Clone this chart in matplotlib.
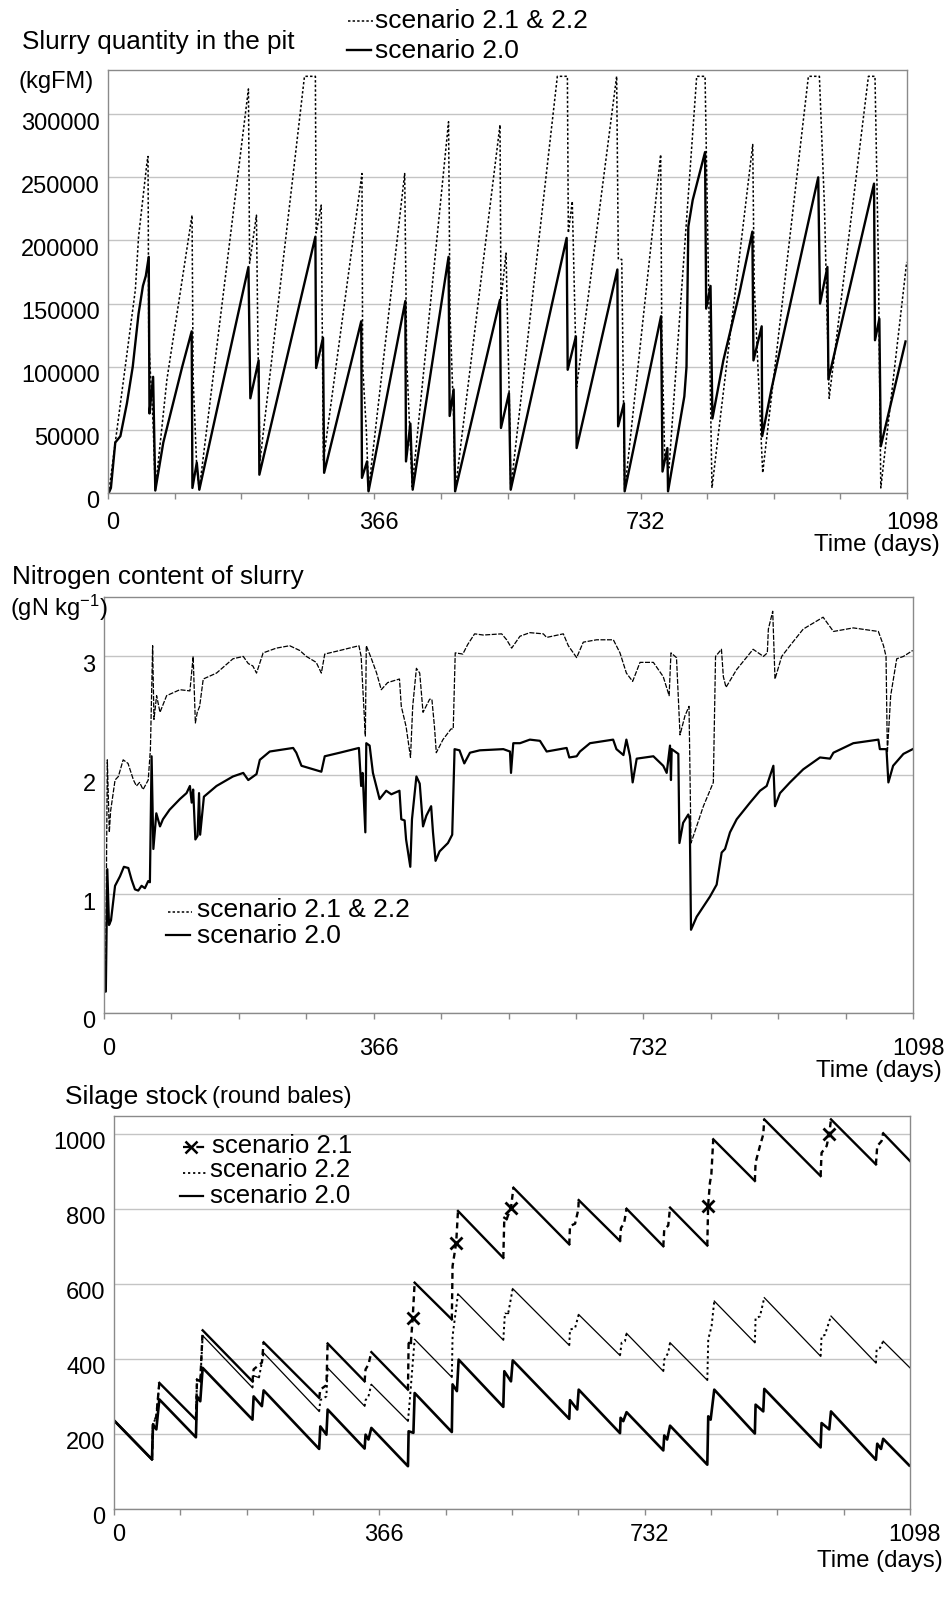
import numpy as np
import matplotlib
matplotlib.use("Agg")
import matplotlib.pyplot as plt
import matplotlib.transforms as mtransforms
from matplotlib.lines import Line2D

plt.rcParams['font.family'] = ['Liberation Sans', 'DejaVu Sans']
plt.rcParams['mathtext.fontset'] = 'custom'
plt.rcParams['mathtext.rm'] = 'Liberation Sans'
plt.rcParams['mathtext.default'] = 'regular'

# ---- data: (day, value) breakpoints ----
slurry_20 = [(0,0),(1,0),(4,4000),(10,40000),(17,45000),(26,71000),(34,100000),(42,142000),
             (48,164000),(52,172000),(56,187000),(57,63000),(59,75000),(62,92000),(65,2000),
             (76,40000),(102,100000),(115,128000),(116,4000),(122,24000),(125.5,2600),
             (193,179000),(195.6,75000),(207,105000),(208,14500),(285,203000),(286,99000),
             (295.5,123000),(297,16000),(348,136000),(349,12000),(356,25000),(358,1300),
             (408.6,152000),(409.5,25000),(415.5,55000),(418.7,2600),(468,187000),(469.5,61000),
             (475,82000),(477,1300),(538.7,153000),(540,51500),(551,79000),(553.4,2600),
             (630.3,202000),(631.7,97600),(643,124000),(644,35600),(700,177000),(701,52800),
             (709,71000),(710,1300),(760,140000),(762,17000),(768.7,35600),(769.6,1300),
             (792,76500),(795,100000),(797.5,211000),(803.5,232000),(820.5,270000),(822,146000),
             (828,164000),(830.6,59000),(845.6,105000),(867.6,158000),(885.5,207000),(887,105000),
             (898.3,132000),(899,45000),(912,83000),(976,250000),(978.5,150000),(988.6,179000),
             (990,90000),(1052.7,245000),(1054,121000),(1060,138000),(1062,37000),(1096,120000)]

slurry_21_22 = [(0,0),(1,0),(10,40000),(37.6,161000),(42,203000),(53.6,262000),(55,266500),
                (56,120000),(62,55000),(65,2000),(66,8000),(81,90000),(115.5,220000),(117,90000),
                (122,20000),(125.5,3000),(193,320000),(194.6,182000),(204,220000),(206,120000),
                (209,26000),(270,330000),(285,330000),(286,206000),(293,228000),(296,26000),
                (349,253000),(350,100000),(355,50000),(358,2000),(407.7,253000),(410.5,105000),
                (418,5000),(468,294000),(470,142000),(475,60000),(477,1300),(538.7,291600),
                (540,153000),(547,190000),(552.5,47500),(553.4,2600),(617.5,330000),(631.3,330000),
                (632.6,206000),(638,231000),(644,84000),(699,330000),(701.3,185000),(706,185000),
                (709,47500),(710,1300),(759.5,268000),(761,127000),(765,30000),(771,20000),
                (809,330000),(820.5,330000),(830,4000),(886,276000),(888,166000),(899.7,16000),
                (962.5,330000),(977.6,330000),(984.5,228000),(991,75000),(1045,330000),
                (1054,330000),(1058.6,186000),(1062,4000),(1097.6,183000)]

nitrogen_20 = [(0.5,0.18),(2.5,0.18),(4.5,1.21),(6.8,0.74),(9.5,0.78),(15,1.07),(21.7,1.15),
               (27,1.23),(33,1.22),(37.5,1.12),(42,1.04),(46.5,1.03),(51,1.07),(55.5,1.05),
               (60,1.11),(62.3,1.10),(64.6,2.16),(67,1.38),(71,1.68),(76,1.57),(80,1.63),
               (89,1.71),(103,1.80),(112,1.85),(116.6,1.91),(119,1.77),(121,1.88),(124,1.46),
               (127,1.49),(129,1.85),(130.5,1.50),(135.6,1.82),(152.7,1.91),(175,1.99),
               (189,2.02),(195.8,1.96),(207,2.01),(211.5,2.13),(225,2.20),(256.7,2.23),
               (261,2.19),(268,2.08),(284,2.05),(295,2.03),(299.6,2.16),(320,2.19),(346,2.23),
               (349,1.91),(351,2.02),(354.7,1.52),(356,2.27),(360.5,2.25),(365,2.02),(374,1.80),
               (383,1.87),(390,1.84),(401,1.87),(403.5,1.63),(408,1.62),(410,1.46),(415.7,1.23),
               (418,1.63),(424,1.99),(428.5,1.93),(433,1.57),(437.5,1.66),(444,1.74),
               (446.5,1.52),(450,1.28),(455.5,1.36),(466.8,1.43),(472.6,1.50),(475.8,2.22),
               (482.5,2.21),(489,2.10),(496.7,2.19),(510,2.21),(542,2.22),(551,2.20),
               (552.4,2.02),(555.5,2.27),(564.6,2.27),(578,2.30),(591.7,2.29),(600.8,2.20),
               (627.9,2.23),(631.5,2.15),(641.5,2.16),(646,2.20),(659.6,2.27),(691,2.30),
               (695.5,2.22),(705,2.17),(709,2.30),(713.9,2.16),(717.5,1.94),(723,2.14),
               (745.6,2.16),(759,2.08),(763.7,2.02),(768.2,2.25),(769.5,1.96),(770.5,2.22),
               (779.5,2.18),(781,1.43),(786,1.60),(793,1.67),(795,1.63),(796.7,0.70),
               (804.4,0.81),(822.5,0.98),(831.5,1.08),(838.3,1.35),(842.9,1.38),(849.6,1.52),
               (858.7,1.63),(876.8,1.77),(890.4,1.87),(899.4,1.91),(908.5,2.08),(910.7,1.74),
               (917.5,1.85),(931,1.94),(949,2.05),(971.8,2.15),(985.4,2.14),(990,2.19),
               (1017,2.27),(1051,2.30),(1053,2.22),(1062,2.22),(1064.6,1.94),(1071,2.08),
               (1085,2.18),(1097.6,2.22)]

nitrogen_21_22 = [(0.5,0.18),(2.5,0.5),(4.5,2.13),(7.2,1.52),(9,1.7),(15,1.96),(19.5,1.99),
                  (26,2.13),(32.6,2.10),(40,1.96),(44,1.91),(48.3,1.94),(53,1.88),(60,1.96),
                  (63,2.22),(66,3.09),(67.8,2.47),(71.4,2.67),(76,2.53),(85,2.67),(103,2.72),
                  (116.6,2.71),(121,3.0),(124,2.44),(126.6,2.53),(129.8,2.58),(134.7,2.81),
                  (152.7,2.86),(175,2.98),(189,3.0),(195.8,2.94),(202,2.92),(207,2.86),
                  (216,3.03),(234,3.07),(252,3.09),(265.7,3.05),(274.7,3.0),(288,2.95),
                  (295,2.86),(299.6,3.02),(320,3.05),(346,3.09),(349,3.0),(354.7,2.33),
                  (356,3.09),(363,2.98),(370,2.86),(376.3,2.72),(385,2.78),(401,2.81),
                  (403.5,2.58),(410,2.41),(416,2.15),(419,2.58),(424,2.90),(428.5,2.86),
                  (433,2.53),(442,2.64),(445,2.64),(448.5,2.41),(451,2.19),(460,2.30),
                  (471,2.39),(474,2.39),(476.7,3.03),(487,3.02),(493.6,3.10),(503,3.19),
                  (514.8,3.18),(539.7,3.19),(546.5,3.14),(553.3,3.07),(564.6,3.17),(578,3.20),
                  (596.2,3.19),(600.8,3.16),(623.4,3.19),(630.2,3.09),(641.5,2.99),(650.5,3.12),
                  (668.6,3.14),(691.3,3.14),(700.3,3.03),(709,2.86),(717.5,2.79),(727.5,2.95),
                  (745.6,2.95),(759,2.83),(767,2.67),(769.5,3.03),(777,2.99),(781.8,2.34),
                  (788.5,2.50),(794,2.58),(796.7,1.43),(813.5,1.74),(827,1.94),(830,3.00),
                  (838,3.06),(840.6,2.83),(844.2,2.74),(858.7,2.89),(881,3.06),(895,3.0),
                  (900.3,3.03),(901.7,3.23),(907.6,3.38),(910.7,2.81),(919.8,3.0),(931,3.09),
                  (949,3.23),(976,3.33),(990,3.21),(1017,3.24),(1051,3.21),(1058,3.09),
                  (1061.4,3.0),(1063.2,2.19),(1067.7,2.67),(1075.9,2.98),(1085,3.0),
                  (1097.6,3.05)]

silage_20 = [(0,236),(52.4,132),(53.8,225),(58.4,212),(62.5,292),(113,191),(114.5,300),
             (119,287),(122.3,376),(191,238),(192.6,300),(204,274),(206.4,316),(283,160),
             (284.6,220),(293,198),(294.7,265),(345.7,161),(347,198),(351,185),(355,216),
             (405.5,114),(406.4,207),(413,203),(414.7,309),(466,205),(467,332),(473,314),
             (475.4,398),(537,272),(538.4,367),(547.6,340),(550,396),(628,240),(629,290),
             (639,265),(641,318),(698,202),(698.8,243),(702.5,234),(707,258),(757.7,156),
             (759,196),(763,185),(767,222),(818.4,118),(819.7,247),(823,238),(828,318),
             (884,201),(885,278),(895.6,260),(897,320),(974.7,164),(976,229),(986.6,212),
             (989,260),(1051,131),(1052.8,174),(1058,160),(1061,187),(1097,116)]

silage_21 = [(0,236),(52.4,132),(53.8,225),(58.4,247),(62.5,336),(113,238),(114.5,345),
             (119,340),(122.3,476),(191,340),(192.6,372),(204,390),(206.4,444),(283,296),
             (284.6,318),(293,330),(294.7,441),(345.7,340),(347,372),(351,385),(355,418),
             (405.5,318),(406.4,443),(409.5,443),(412,509),(414.7,603),(466,505),(467,647),
             (472,709),(474.5,794),(537,669),(538.4,776),(541.6,772),(547.6,803),(551,856),
             (628,705),(629,754),(636,760),(640.5,798),(641,823),(698,714),(699.3,749),
             (703.5,760),(707,800),(757.7,700),(759,745),(764.5,755),(767,803),(818.4,702),
             (819.5,807),(822,869),(824,892),(826.6,985),(884,874),(885,923),(891,967),
             (895.6,998),(897,1038),(974.7,887),(976,949),(983,967),(986.6,998),(989,1038),
             (1051,918),(1052.8,967),(1058.7,980),(1061,1001),(1098,927)]
silage_21_mark_days = [412, 472, 547.6, 819.5, 986.6]
silage_21_mark_vals = [509, 709, 803, 807, 998]

silage_22 = [(0,236),(52.4,132),(53.8,225),(58.4,247),(62.5,336),(113,238),(114.5,345),
             (119,340),(122.3,462),(191,323),(192.6,355),(200,350),(206.4,416),(283,260),
             (284.6,290),(293,300),(294.7,376),(345.7,274),(347,290),(351,300),(355,332),
             (405.5,234),(408,290),(414.7,452),(466,351),(467,460),(474.5,573),(537,450),
             (539.3,523),(543.9,523),(550,587),(628,436),(629,478),(636,482),(641,518),
             (698,409),(700.2,443),(704.8,447),(707,468),(757.7,367),(759,398),(764.5,416),
             (767,443),(818.4,343),(819.7,452),(824.3,487),(828,554),(884,443),(885,509),
             (891,513),(897,563),(974.7,407),(976,460),(980.6,464),(989,514),(1051,389),
             (1052,425),(1056.7,429),(1061,447),(1098,376)]

day_ticks = np.arange(0, 1099, 91.5)

W, H = 951, 1623
fig = plt.figure(figsize=(W / 100, H / 100), dpi=100)


def fx(px):
    return px / W


def fy(py):
    return 1 - py / H


def make_axes(l, r, t, b):
    return fig.add_axes([fx(l), fy(b), (r - l) / W, (b - t) / H])


def xy(pairs):
    a = np.array(pairs, dtype=float)
    return a[:, 0], a[:, 1]


def runs(pairs):
    # split a series into rising and falling stretches
    d, v = xy(pairs)
    out = []
    start = 0
    up = v[1] > v[0]
    for i in range(1, len(d) - 1):
        now = v[i + 1] > v[i]
        if now != up:
            out.append((up, d[start:i + 1], v[start:i + 1]))
            start, up = i, now
    out.append((up, d[start:], v[start:]))
    return out


def style_axes(ax, ymax, yticks, ylabels, xpad):
    ax.set_xlim(0, 1098)
    ax.set_ylim(0, ymax)
    ax.set_xticks(day_ticks)
    ax.set_xticklabels([str(int(t)) if t % 366 == 0 else '' for t in day_ticks])
    ax.set_yticks(yticks)
    ax.set_yticklabels(ylabels)
    ax.yaxis.grid(True, color='#c4c4c4', lw=1)
    ax.set_axisbelow(True)
    for s in ax.spines.values():
        s.set_color('#8a8a8a')
        s.set_linewidth(1)
    ax.tick_params(axis='x', direction='out', length=4, width=1, color='#8a8a8a',
                   labelsize=17, pad=xpad)
    ax.tick_params(axis='y', length=0, labelsize=17, pad=6)
    down = mtransforms.ScaledTranslation(0, -0.07, fig.dpi_scale_trans)
    for lab in ax.get_yticklabels():
        lab.set_transform(lab.get_transform() + down)
    right = mtransforms.ScaledTranslation(0.05, 0, fig.dpi_scale_trans)
    for lab in ax.get_xticklabels():
        lab.set_transform(lab.get_transform() + right)


def legend_entry(x0, x1, y, tx, ty, label, size=19, **kw):
    fig.add_artist(Line2D([fx(x0), fx(x1)], [fy(y), fy(y)], transform=fig.transFigure,
                          color='black', **kw))
    fig.text(fx(tx), fy(ty), label, fontsize=size, va='baseline')


# ---- panel 1: slurry quantity ----
ax1 = make_axes(108, 907, 70, 493)
d, v = xy(slurry_21_22)
ax1.plot(d, v, color='black', lw=1.1, dashes=(1.6, 1.4))
d, v = xy(slurry_20)
ax1.plot(d, v, color='black', lw=1.7)
style_axes(ax1, 335000, np.arange(0, 300001, 50000),
           [str(int(t)) for t in np.arange(0, 300001, 50000)], 10)
fig.text(fx(22), fy(42), 'Slurry quantity in the pit', fontsize=18.8, va='center')
fig.text(fx(18), fy(82), '(kgFM)', fontsize=17, va='center')
fig.text(fx(940), fy(545), 'Time (days)', fontsize=17.3, va='center', ha='right')
legend_entry(348, 373, 21, 375, 28, 'scenario 2.1 & 2.2', lw=1.1, dashes=(1.6, 1.4))
legend_entry(347, 371, 50, 375, 58, 'scenario 2.0', lw=1.7)

# ---- panel 2: nitrogen content ----
ax2 = make_axes(104, 913, 597, 1013)
d, v = xy(nitrogen_21_22)
ax2.plot(d, v, color='black', lw=0.9, dashes=(4, 1.2))
d, v = xy(nitrogen_20)
ax2.plot(d, v, color='black', lw=1.6)
style_axes(ax2, 3.5, [0, 1, 2, 3], ['0', '1', '2', '3'], 14)
fig.text(fx(12), fy(577), 'Nitrogen content of slurry', fontsize=18.8, va='center')
fig.text(fx(10), fy(608), r'(gN kg$^{-1}$)', fontsize=17, va='center')
fig.text(fx(942), fy(1071), 'Time (days)', fontsize=17.3, va='center', ha='right')
legend_entry(168, 192, 912, 197, 917, 'scenario 2.1 & 2.2', lw=1.1, dashes=(1.6, 1.4))
legend_entry(166, 190, 935, 197, 943, 'scenario 2.0', lw=1.6)

# ---- panel 3: silage stock ----
ax3 = make_axes(114, 910, 1116, 1509)
for up, d, v in runs(silage_22):
    if up:
        ax3.plot(d, v, color='black', lw=1.4, dashes=(1.2, 1.6))
    else:
        ax3.plot(d, v, color='black', lw=0.9)
for up, d, v in runs(silage_21):
    if up:
        ax3.plot(d, v, color='black', lw=1.7, dashes=(2.5, 1.8))
    else:
        ax3.plot(d, v, color='black', lw=1.7)
ax3.plot(silage_21_mark_days, silage_21_mark_vals, ls='none', marker='x',
         ms=9, mew=2, color='black')
d, v = xy(silage_20)
ax3.plot(d, v, color='black', lw=1.9)
style_axes(ax3, 1047, np.arange(0, 1001, 200),
           [str(int(t)) for t in np.arange(0, 1001, 200)], 7)
fig.text(fx(65), fy(1097), 'Silage stock', fontsize=19, va='center')
fig.text(fx(212), fy(1097), '(round bales)', fontsize=17, va='center')
fig.text(fx(943), fy(1561), 'Time (days)', fontsize=17.3, va='center', ha='right')
legend_entry(183, 207, 1147, 212, 1153, 'scenario 2.1', size=18.5, lw=1.6, dashes=(3.5, 2.5))
fig.add_artist(Line2D([fx(191)], [fy(1147)], transform=fig.transFigure, ls='none',
                      marker='x', ms=9, mew=1.8, color='black'))
legend_entry(183, 207, 1173, 210, 1177, 'scenario 2.2', size=18.5, lw=1.3, dashes=(1.2, 1.6))
legend_entry(180, 203, 1196, 210, 1203, 'scenario 2.0', size=18.5, lw=1.6)

fig.savefig('out.png', dpi=100)
